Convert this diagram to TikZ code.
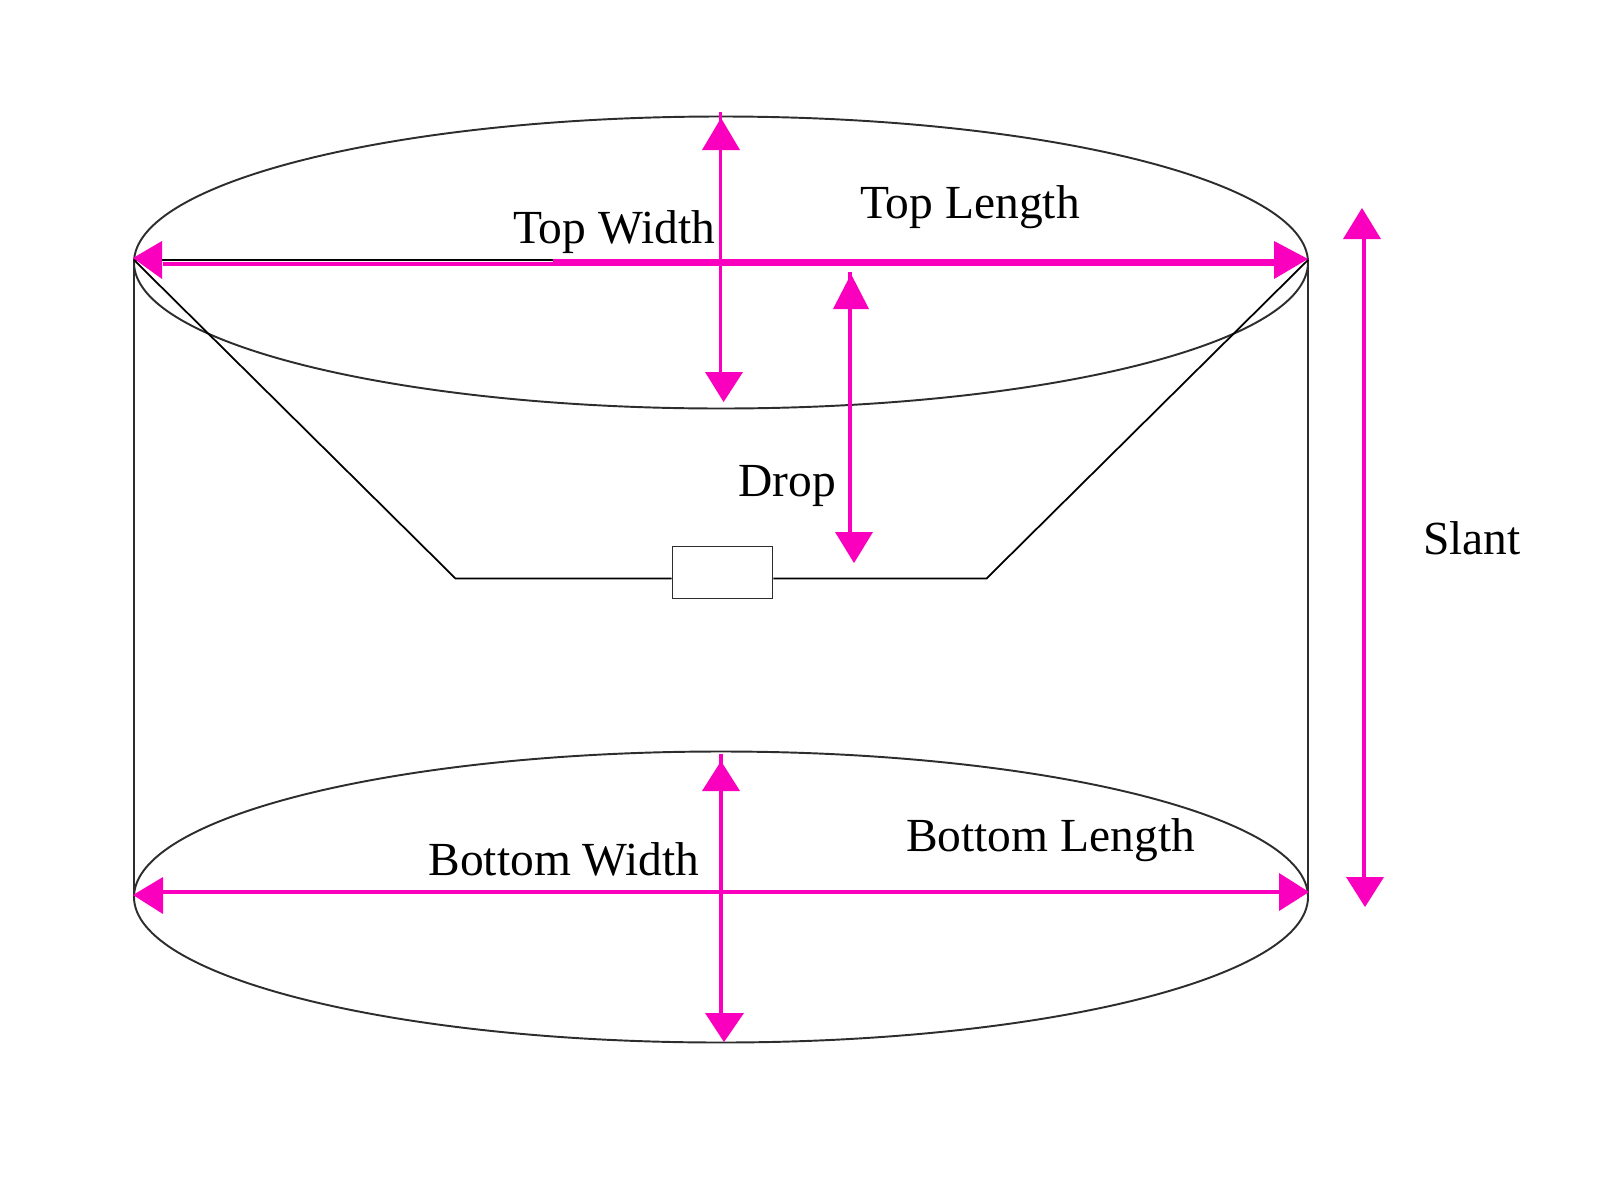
\documentclass[tikz,border=0pt]{standalone}
\usepackage{fontspec}
\setmainfont{Liberation Serif}
\definecolor{dimpink}{RGB}{250,0,190}
\definecolor{shadeline}{RGB}{45,45,45}
\begin{document}
\begin{tikzpicture}[x=0.01cm, y=0.01cm]
		\tikzstyle{every node}+=[inner sep=0pt, font=\fontsize{13.5}{16}\selectfont]
		\tikzstyle{outline}=[shadeline, line width=0.55pt]
		\tikzstyle{cord}=[black, line width=0.5pt]
		\tikzstyle{dimline}=[dimpink, line width=1.05pt]
		\tikzstyle{dimthick}=[dimpink, line width=2pt]
		\tikzstyle{dimhead}=[fill=dimpink]
		\useasboundingbox (0,0) rectangle (1600,-1200);
		% shade outline
		\draw [outline] (721,-262.5) ellipse (587 and 146);
		\draw [outline] (721,-897) ellipse (587 and 145.5);
		\coordinate (topL) at (134,-260);
		\coordinate (topR) at (1308,-260);
		\coordinate (botL) at (134,-896);
		\coordinate (botR) at (1308,-896);
		\draw [outline] (topL) -- (botL);
		\draw [outline] (topR) -- (botR);
		% spider and fitting
		\node [draw=shadeline, line width=0.5pt, minimum width=28.4pt, minimum height=14.8pt] (fitting) at (722.5,-572.5) {};
		\coordinate (bendL) at (455.5,-578.5);
		\coordinate (bendR) at (986.5,-578.5);
		\draw [cord] (topL) -- (bendL) -- (fitting.west |- bendL);
		\draw [cord] (topR) -- (bendR) -- (fitting.east |- bendR);
		\coordinate (wireEnd) at (553,-260);
		\draw [cord] (topL) -- (wireEnd);
		% top length
		\coordinate (tlA) at (163,-263.7);
		\coordinate (tlB) at (553,-263.7);
		\coordinate (tlC) at (553,-262.5);
		\coordinate (tlD) at (1275,-262.5);
		\draw [dimline] (tlA) -- (tlB);
		\draw [dimthick] (tlC) -- (tlD);
		\fill [dimhead] (133,-258) -- (162,-241) -- (162,-279);
		\fill [dimhead] (1308,-259) -- (1274,-241) -- (1274,-279);
		% top width
		\coordinate (twA) at (720.5,-112);
		\coordinate (twB) at (720.5,-375);
		\draw [dimline] (twA) -- (twB);
		\fill [dimhead] (721,-118) -- (702,-150) -- (740,-150);
		\fill [dimhead] (723.6,-402) -- (705,-372) -- (743,-372);
		% drop
		\coordinate (dpA) at (850.3,-272);
		\coordinate (dpB) at (850.3,-535);
		\draw [dimline] (dpA) -- (dpB);
		\fill [dimhead] (851,-274) -- (833,-309) -- (869,-309);
		\fill [dimhead] (854,-563) -- (835,-532) -- (873,-532);
		% slant
		\coordinate (slA) at (1364,-235);
		\coordinate (slB) at (1364,-880);
		\draw [dimline] (slA) -- (slB);
		\fill [dimhead] (1362,-208) -- (1343,-239) -- (1381,-239);
		\fill [dimhead] (1365,-907) -- (1346,-877) -- (1384,-877);
		% bottom length
		\coordinate (blA) at (162,-891.7);
		\coordinate (blB) at (1280,-891.7);
		\draw [dimline] (blA) -- (blB);
		\fill [dimhead] (133,-895) -- (163,-877) -- (163,-914);
		\fill [dimhead] (1309,-892) -- (1279,-873) -- (1279,-911);
		% bottom width
		\coordinate (bwA) at (721,-754);
		\coordinate (bwB) at (721,-1016);
		\draw [dimline] (bwA) -- (bwB);
		\fill [dimhead] (721,-761) -- (702,-791) -- (740,-791);
		\fill [dimhead] (724,-1042) -- (705,-1013) -- (744,-1013);
		% labels
		\node [anchor=base] (topwidth) at (614,-243) {Top Width};
		\node [anchor=base] (toplength) at (970,-218) {Top Length};
		\node [anchor=base] (droplabel) at (787,-496) {Drop};
		\node [anchor=base] (slantlabel) at (1472,-554) {Slant};
		\node [anchor=base] (botwidth) at (564,-875) {Bottom Width};
		\node [anchor=base] (botlength) at (1050.5,-851) {Bottom Length};
	\end{tikzpicture}
\end{document}
